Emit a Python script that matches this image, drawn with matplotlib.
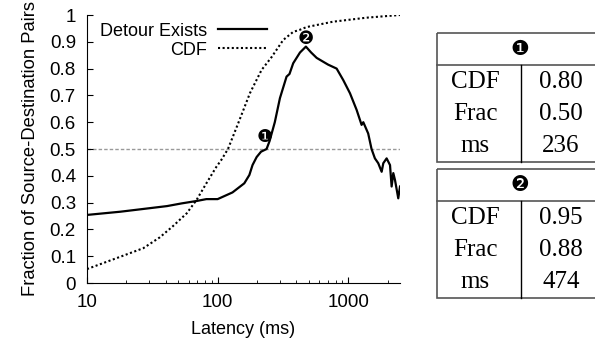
"""Detour latency chart with marker summary tables."""

import matplotlib
matplotlib.use("Agg")
import matplotlib.pyplot as plt
from matplotlib.patches import Rectangle

plt.rcParams["font.family"] = ["Liberation Sans", "DejaVu Sans"]

# Detour Exists curve (latency ms, fraction)
detour_ms = [10, 18, 30, 41, 53, 69, 82, 100, 130, 160, 175, 185, 199, 215, 237,
             250, 274, 300, 337, 355, 379, 427, 474, 520, 573, 700, 815, 916,
             1031, 1159, 1230, 1265, 1304, 1421, 1508, 1600, 1697, 1802, 1855,
             1967, 2088, 2148, 2213, 2280, 2415, 2490]
detour_frac = [0.254, 0.266, 0.279, 0.287, 0.297, 0.306, 0.313, 0.313, 0.338,
               0.372, 0.403, 0.44, 0.47, 0.49, 0.50, 0.53, 0.60, 0.69, 0.77,
               0.78, 0.82, 0.86, 0.882, 0.86, 0.84, 0.815, 0.80, 0.757, 0.708,
               0.646, 0.608, 0.59, 0.60, 0.558, 0.50, 0.465, 0.447, 0.415,
               0.447, 0.465, 0.44, 0.36, 0.41, 0.384, 0.316, 0.36]

# CDF curve
cdf_ms = [10, 18, 27, 36, 45, 58, 69, 82, 98, 107, 120, 144, 177, 217, 259,
          318, 379, 427, 480, 764, 1380, 2490]
cdf_frac = [0.052, 0.098, 0.13, 0.17, 0.21, 0.26, 0.31, 0.372, 0.434, 0.46,
            0.50, 0.597, 0.709, 0.795, 0.843, 0.907, 0.937, 0.945, 0.955,
            0.975, 0.99, 1.0]

threshold = 0.5
markers = ["\u2776", "\u2777"]
marker_ms = [230, 474]
marker_y = [0.546, 0.91]

table_rows = ["CDF", "Frac", "ms"]
table_vals = [["0.80", "0.50", "236"], ["0.95", "0.88", "474"]]

W, H = 595, 343
fig = plt.figure(figsize=(W / 100, H / 100), dpi=100)
ax = fig.add_axes([87 / W, 60 / H, 313 / W, 268 / H])

h1, = ax.plot(detour_ms, detour_frac, color="black", lw=1.6)
h2, = ax.plot(cdf_ms, cdf_frac, color="black", lw=1.5, ls=(0, (1, 1.2)))
ax.axhline(threshold, color="#999999", lw=1.0, ls=(0, (2.5, 1.5)), zorder=0)

for m, x, y in zip(markers, marker_ms, marker_y):
    ax.text(x, y, m, ha="center", va="center", fontsize=13,
            family=["DejaVu Sans"])

ax.set_xscale("log")
ax.set_xlim(10, 2490)
ax.set_ylim(0, 1)
ax.set_yticks([i / 10 for i in range(11)])
ax.set_yticklabels(["0"] + [f"{i / 10:.1f}" for i in range(1, 10)] + ["1"])
ax.set_xticks([10, 100, 1000])
ax.set_xticklabels(["10", "100", "1000"])
ax.tick_params(which="both", direction="in", labelsize=13.5, pad=8)
ax.tick_params(which="major", length=4)
ax.tick_params(which="minor", length=2.5)
for s in ("top", "right"):
    ax.spines[s].set_visible(False)

ax.set_xlabel("Latency (ms)", fontsize=13, labelpad=7)
ax.set_ylabel("Fraction of Source-Destination Pairs", fontsize=13.2, labelpad=8)

# gnuplot-style key: text right-aligned, sample line on the right
leg1 = ax.legend([h1], ["Detour Exists"], loc="upper right",
                 bbox_to_anchor=(0.575, 0.972), markerfirst=False, frameon=False,
                 fontsize=13, handlelength=2.7, handletextpad=0.6,
                 borderpad=0, borderaxespad=0)
ax.add_artist(leg1)
ax.legend([h2], ["CDF"], loc="upper right", bbox_to_anchor=(0.575, 0.900),
          markerfirst=False, frameon=False, fontsize=13, handlelength=2.7,
          handletextpad=0.6, borderpad=0, borderaxespad=0)

# summary tables on the right, in pixel coordinates
tab = fig.add_axes([0, 0, 1, 1])
tab.set_xlim(0, W)
tab.set_ylim(H, 0)
tab.axis("off")
box_left, box_right, div_x = 437, 603, 521
for k, top in enumerate([33, 169]):
    tab.add_patch(Rectangle((box_left, top), box_right - box_left, 129,
                            fill=False, ec="#555555", lw=1.2))
    tab.plot([box_left, box_right], [top + 32, top + 32], color="#555555", lw=1.2)
    tab.plot([div_x, div_x], [top + 32, top + 129], color="black", lw=1.0)
    tab.text((box_left + box_right) / 2, top + 16, markers[k], ha="center",
             va="center", fontsize=15, family=["DejaVu Sans"])
    for r, (lab, val) in enumerate(zip(table_rows, table_vals[k])):
        yc = top + 49 + r * 32
        tab.text(475, yc, lab, ha="center", va="center", fontsize=18,
                 family=["Liberation Serif"])
        tab.text(561, yc, val, ha="center", va="center", fontsize=18,
                 family=["Liberation Serif"])

fig.savefig("out.png", dpi=100)
